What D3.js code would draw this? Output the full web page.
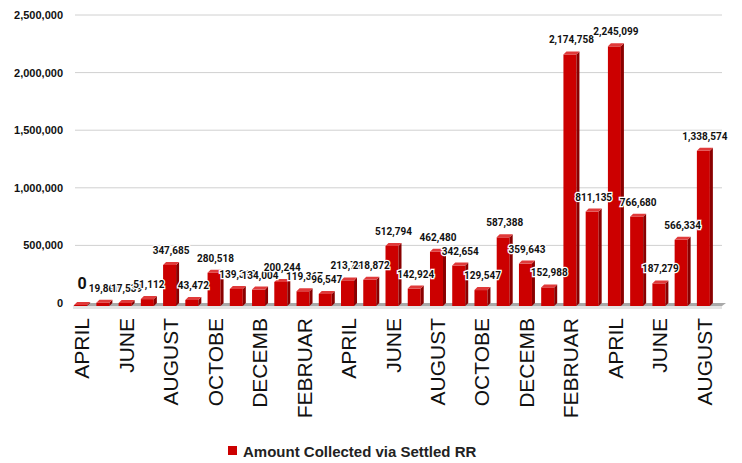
<!DOCTYPE html>
<html>
<head>
<meta charset="utf-8">
<script src="https://d3js.org/d3.v7.min.js"></script>
<style>
  body { margin: 0; background: #fff; }
  text { font-family: "Liberation Sans", Arial, sans-serif; }
</style>
</head>
<body>
<svg width="742" height="463"></svg>
<script>
// months, Apr .. Aug of the following year
var months = ["APRIL","MAY","JUNE","JULY","AUGUST","SEPTEMBER","OCTOBER","NOVEMBER","DECEMBER","JANUARY","FEBRUARY","MARCH",
              "APRIL","MAY","JUNE","JULY","AUGUST","SEPTEMBER","OCTOBER","NOVEMBER","DECEMBER","JANUARY","FEBRUARY","MARCH",
              "APRIL","MAY","JUNE","JULY","AUGUST"];
var amounts = [0, 19860, 17539, 51112, 347685, 43472, 280518, 139313, 134004, 200244, 119367, 96547,
               213721, 218872, 512794, 142924, 462480, 342654, 129547, 587388, 359643, 152988,
               2174758, 811135, 2245099, 766680, 187279, 566334, 1338574];
var yTicks = [0, 500000, 1000000, 1500000, 2000000, 2500000];
var seriesName = "Amount Collected via Settled RR";

var svg = d3.select("svg");
var idx = d3.range(amounts.length);

var x = d3.scaleBand().domain(idx).range([71, 716]);
var y = d3.scaleLinear().domain([0, 2500000]).range([303, 15]);

var faceW = 13, depth = 3, lift = 3;

// gridlines + y labels
svg.append("g").selectAll("line").data(yTicks.slice(1)).enter().append("line")
  .attr("x1", 75).attr("x2", 722)
  .attr("y1", function(d) { return y(d); }).attr("y2", function(d) { return y(d); })
  .attr("stroke", "#d0d0d0").attr("stroke-width", 1);

svg.append("g").selectAll("text").data(yTicks).enter().append("text")
  .attr("x", 63).attr("y", function(d) { return y(d) + 4; })
  .attr("text-anchor", "end")
  .style("font-size", "11px").style("font-weight", "bold").attr("fill", "#111")
  .text(d3.format(","));

// floor
svg.append("path")
  .attr("d", "M73," + (y(0) + 3) + " L722," + (y(0) + 3) + " L726," + y(0) + " L77," + y(0) + " Z")
  .attr("fill", "#a9a9a9");
svg.append("rect").attr("x", 73).attr("y", y(0) + 3).attr("width", 649).attr("height", 3).attr("fill", "#e4e4e4");

// bars
var bars = svg.append("g").selectAll("g").data(idx).enter().append("g");
function left(i) { return x(i) + (x.bandwidth() - faceW - depth) / 2; }

bars.append("rect")
  .attr("x", left)
  .attr("y", function(i) { return y(amounts[i]) + 2; })
  .attr("width", faceW)
  .attr("height", function(i) { return y(0) + 1 - y(amounts[i]); })
  .attr("fill", "#cc0000");

bars.append("path")
  .attr("d", function(i) {
    var l = left(i) + faceW, t = y(amounts[i]) + 2, b = y(0) + 3;
    return "M" + l + "," + t + " L" + (l + depth) + "," + (t - lift) + " L" + (l + depth) + "," + (b - lift) + " L" + l + "," + b + " Z";
  })
  .attr("fill", "#8a0000");

bars.append("path")
  .attr("d", function(i) {
    var l = left(i), t = y(amounts[i]) + 2;
    return "M" + l + "," + t + " L" + (l + faceW) + "," + t + " L" + (l + faceW + depth) + "," + (t - lift) + " L" + (l + depth) + "," + (t - lift) + " Z";
  })
  .attr("fill", "#e03a3a");

// value labels
svg.append("g").selectAll("text").data(idx).enter().append("text")
  .attr("x", function(i) { return x(i) + x.bandwidth() / 2; })
  .attr("y", function(i) { return y(amounts[i]) - (amounts[i] === 0 ? 14 : 9); })
  .attr("text-anchor", "middle")
  .style("font-family", "Roboto, 'Liberation Sans', sans-serif")
  .style("font-size", function(i) { return amounts[i] === 0 ? "16px" : "10px"; })
  .style("font-weight", "bold")
  .attr("fill", "#111")
  .attr("stroke", "#fff").attr("stroke-width", 2.5).attr("paint-order", "stroke")
  .text(function(i) { return d3.format(",")(amounts[i]); });

// x labels, every other month, cut short like the original
function clip(s) { return s.length > 6 ? s.slice(0, s === "FEBRUARY" ? 7 : 6) : s; }
svg.append("g").selectAll("text").data(idx.filter(function(i) { return i % 2 === 0; })).enter().append("text")
  .attr("transform", function(i) { return "translate(" + (x(i) + x.bandwidth() / 2 + 7) + ",318) rotate(-90)"; })
  .attr("text-anchor", "end")
  .style("font-size", "21px").attr("fill", "#111")
  .text(function(i) { return clip(months[i]); });

// legend
var lg = svg.append("g");
lg.append("rect").attr("x", 228).attr("y", 446).attr("width", 9).attr("height", 9).attr("fill", "#cc0000");
lg.append("text").attr("x", 243).attr("y", 457)
  .style("font-size", "15px").style("font-weight", "bold").attr("fill", "#222")
  .text(seriesName);
</script>
</body>
</html>
